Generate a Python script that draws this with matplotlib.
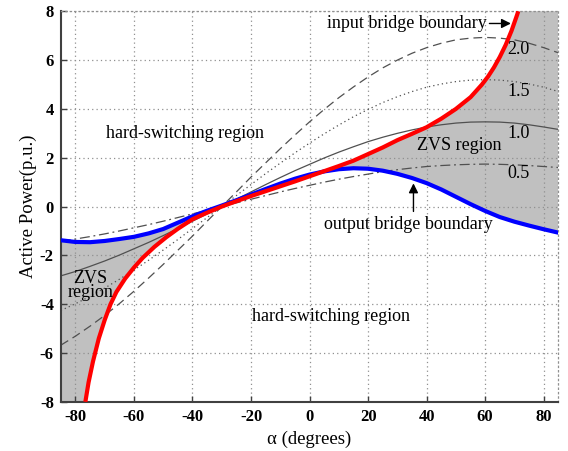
import matplotlib
matplotlib.use("Agg")
import matplotlib.pyplot as plt

# Phase-shift angle samples (degrees) for the constant-ratio power curves
alpha = [-85, -80, -75, -70, -65, -60, -55, -50, -45, -40, -35, -30, -25, -20,
         -15, -10, -5, 0, 5, 10, 15, 20, 25, 30, 35, 40, 45, 50, 55, 60, 65,
         70, 75, 80, 85]

p_05 = [-1.43, -1.33, -1.23, -1.12, -1.00, -0.87, -0.74, -0.60, -0.45, -0.30,
        -0.15, 0.00, 0.15, 0.30, 0.45, 0.60, 0.74, 0.87, 1.00, 1.12, 1.23,
        1.33, 1.43, 1.51, 1.58, 1.64, 1.68, 1.71, 1.73, 1.74, 1.73, 1.71,
        1.68, 1.64, 1.60]
p_10 = [-2.84, -2.66, -2.45, -2.23, -1.99, -1.73, -1.47, -1.19, -0.90, -0.60,
        -0.30, 0.00, 0.30, 0.60, 0.90, 1.19, 1.47, 1.73, 1.99, 2.23, 2.45,
        2.66, 2.84, 3.00, 3.14, 3.26, 3.35, 3.42, 3.46, 3.47, 3.46, 3.42,
        3.35, 3.26, 3.16]
p_15 = [-4.26, -3.98, -3.68, -3.34, -2.98, -2.60, -2.20, -1.78, -1.35, -0.90,
        -0.45, 0.00, 0.45, 0.90, 1.35, 1.78, 2.20, 2.60, 2.98, 3.34, 3.68,
        3.98, 4.26, 4.50, 4.71, 4.89, 5.02, 5.12, 5.18, 5.20, 5.18, 5.12,
        5.02, 4.89, 4.71]
p_20 = [-5.68, -5.31, -4.90, -4.46, -3.98, -3.47, -2.93, -2.37, -1.79, -1.21,
        -0.60, 0.00, 0.60, 1.21, 1.79, 2.37, 2.93, 3.47, 3.98, 4.46, 4.90,
        5.31, 5.68, 6.00, 6.28, 6.51, 6.69, 6.83, 6.90, 6.93, 6.90, 6.83,
        6.69, 6.51, 6.30]

# Output bridge ZVS boundary
p_output = [-1.38, -1.45, -1.46, -1.41, -1.33, -1.24, -1.10, -0.92, -0.66,
            -0.40, -0.17, 0.04, 0.26, 0.49, 0.72, 0.94, 1.14, 1.31, 1.44,
            1.53, 1.57, 1.55, 1.47, 1.34, 1.17, 0.96, 0.70, 0.40, 0.10,
            -0.18, -0.43, -0.62, -0.78, -0.93, -1.07]

# Input bridge ZVS boundary (leaves the plotted range at both ends)
alpha_input = [-76.6, -75.5, -74.0, -72.0, -70.0, -68.0, -66.0, -63.0, -60.0,
               -57.0, -53.0, -49.0, -45.0, -40.0, -35.0, -30.0, -25.0, -20.0,
               -15.0, -10.0, -5.0, 0.0, 5.0, 10.0, 15.0, 20.0, 25.0, 30.0,
               35.0, 40.0, 45.0, 50.0, 55.0, 58.9, 61.0, 63.0, 65.0, 67.0,
               69.0, 70.9, 71.3]
p_input = [-8.00, -7.20, -6.35, -5.40, -4.65, -4.00, -3.50, -2.95, -2.50,
           -2.10, -1.65, -1.26, -0.91, -0.52, -0.25, 0.00, 0.22, 0.43, 0.63,
           0.83, 1.03, 1.24, 1.45, 1.66, 1.88, 2.15, 2.42, 2.72, 2.98, 3.25,
           3.60, 4.00, 4.48, 5.00, 5.33, 5.70, 6.13, 6.62, 7.20, 7.85, 8.00]

ratio_labels = ["2.0", "1.5", "1.0", "0.5"]
x_ticks = [-80, -60, -40, -20, 0, 20, 40, 60, 80]
y_ticks = [-8, -6, -4, -2, 0, 2, 4, 6, 8]
x_min, x_max = -85, 85
y_min, y_max = -8, 8

plt.rcParams["font.family"] = ["Liberation Serif", "DejaVu Serif"]
plt.rcParams["axes.unicode_minus"] = False

fig = plt.figure(figsize=(5.68, 4.51), dpi=100)
ax = fig.add_axes([0.107, 0.109, 0.876, 0.866])

# ZVS regions: between the two bridge boundaries, closed by the plot corners
poly_x = list(alpha) + [x_max] + alpha_input[::-1] + [x_min]
poly_y = list(p_output) + [y_max] + p_input[::-1] + [y_min]
ax.fill(poly_x, poly_y, color="#c0c0c0", lw=0, zorder=1)

curve_color = "#505050"
ax.plot(alpha, p_20, color=curve_color, lw=0.9, dashes=(7, 4), zorder=2)
ax.plot(alpha, p_15, color=curve_color, lw=0.9, dashes=(1, 2.5), zorder=2)
ax.plot(alpha, p_10, color=curve_color, lw=0.9, zorder=2)
ax.plot(alpha, p_05, color=curve_color, lw=0.9, dashes=(8, 3, 1.5, 3), zorder=2)

ax.plot(alpha, p_output, color="#0000ff", lw=3.0, solid_capstyle="butt",
        solid_joinstyle="round", zorder=3)
ax.plot(alpha_input, p_input, color="#ff0000", lw=3.0, solid_capstyle="butt",
        solid_joinstyle="round", zorder=4)

ax.set_xlim(x_min, x_max)
ax.set_ylim(y_min, y_max)
ax.set_xticks(x_ticks)
ax.set_yticks(y_ticks)
ax.tick_params(direction="in", length=4, width=1, labelsize=12, color="#404040",
               pad=5)
for lbl in ax.get_xticklabels() + ax.get_yticklabels():
    lbl.set_fontweight("bold")

ax.set_axisbelow("line")
ax.grid(True, color="#909090", linestyle=(0, (1, 2.5)), linewidth=0.9)

for side in ("left", "bottom"):
    ax.spines[side].set_color("#404040")
    ax.spines[side].set_linewidth(1.5)
for side in ("top", "right"):
    ax.spines[side].set_color("#909090")
    ax.spines[side].set_linestyle((0, (1, 2.5)))
    ax.spines[side].set_linewidth(0.9)

ax.set_xlabel("α (degrees)", fontsize=13.5, labelpad=4)
ax.set_ylabel("Active Power(p.u.)", fontsize=13.5, labelpad=2)

txt = dict(fontsize=13, color="black", zorder=5)
ax.text(-42.6, 3.0, "hard-switching region", ha="center", va="center", **txt)
ax.text(7.4, -4.5, "hard-switching region", ha="center", va="center", **txt)
ax.text(51.0, 2.5, "ZVS region", ha="center", va="center", **txt)
ax.text(-74.8, -3.22, "ZVS\nregion", ha="center", va="center",
        linespacing=0.78, **txt)

for label, y in zip(ratio_labels, [6.42, 4.71, 3.0, 1.37]):
    ax.text(71.4, y, label, ha="center", va="center", **txt)

ax.annotate("input bridge boundary", xy=(68.8, 7.5), xytext=(60.5, 7.5),
            ha="right", va="center", fontsize=13, zorder=5,
            arrowprops=dict(arrowstyle="-|>", color="black", lw=1,
                            mutation_scale=14, shrinkA=0, shrinkB=0))
ax.text(33.7, -0.72, "output bridge boundary", ha="center", va="center", **txt)
ax.annotate("", xy=(35.5, 0.95), xytext=(35.5, -0.2),
            arrowprops=dict(arrowstyle="-|>", color="black", lw=1,
                            mutation_scale=14, shrinkA=0, shrinkB=0), zorder=5)

fig.savefig("out.png", dpi=100)
